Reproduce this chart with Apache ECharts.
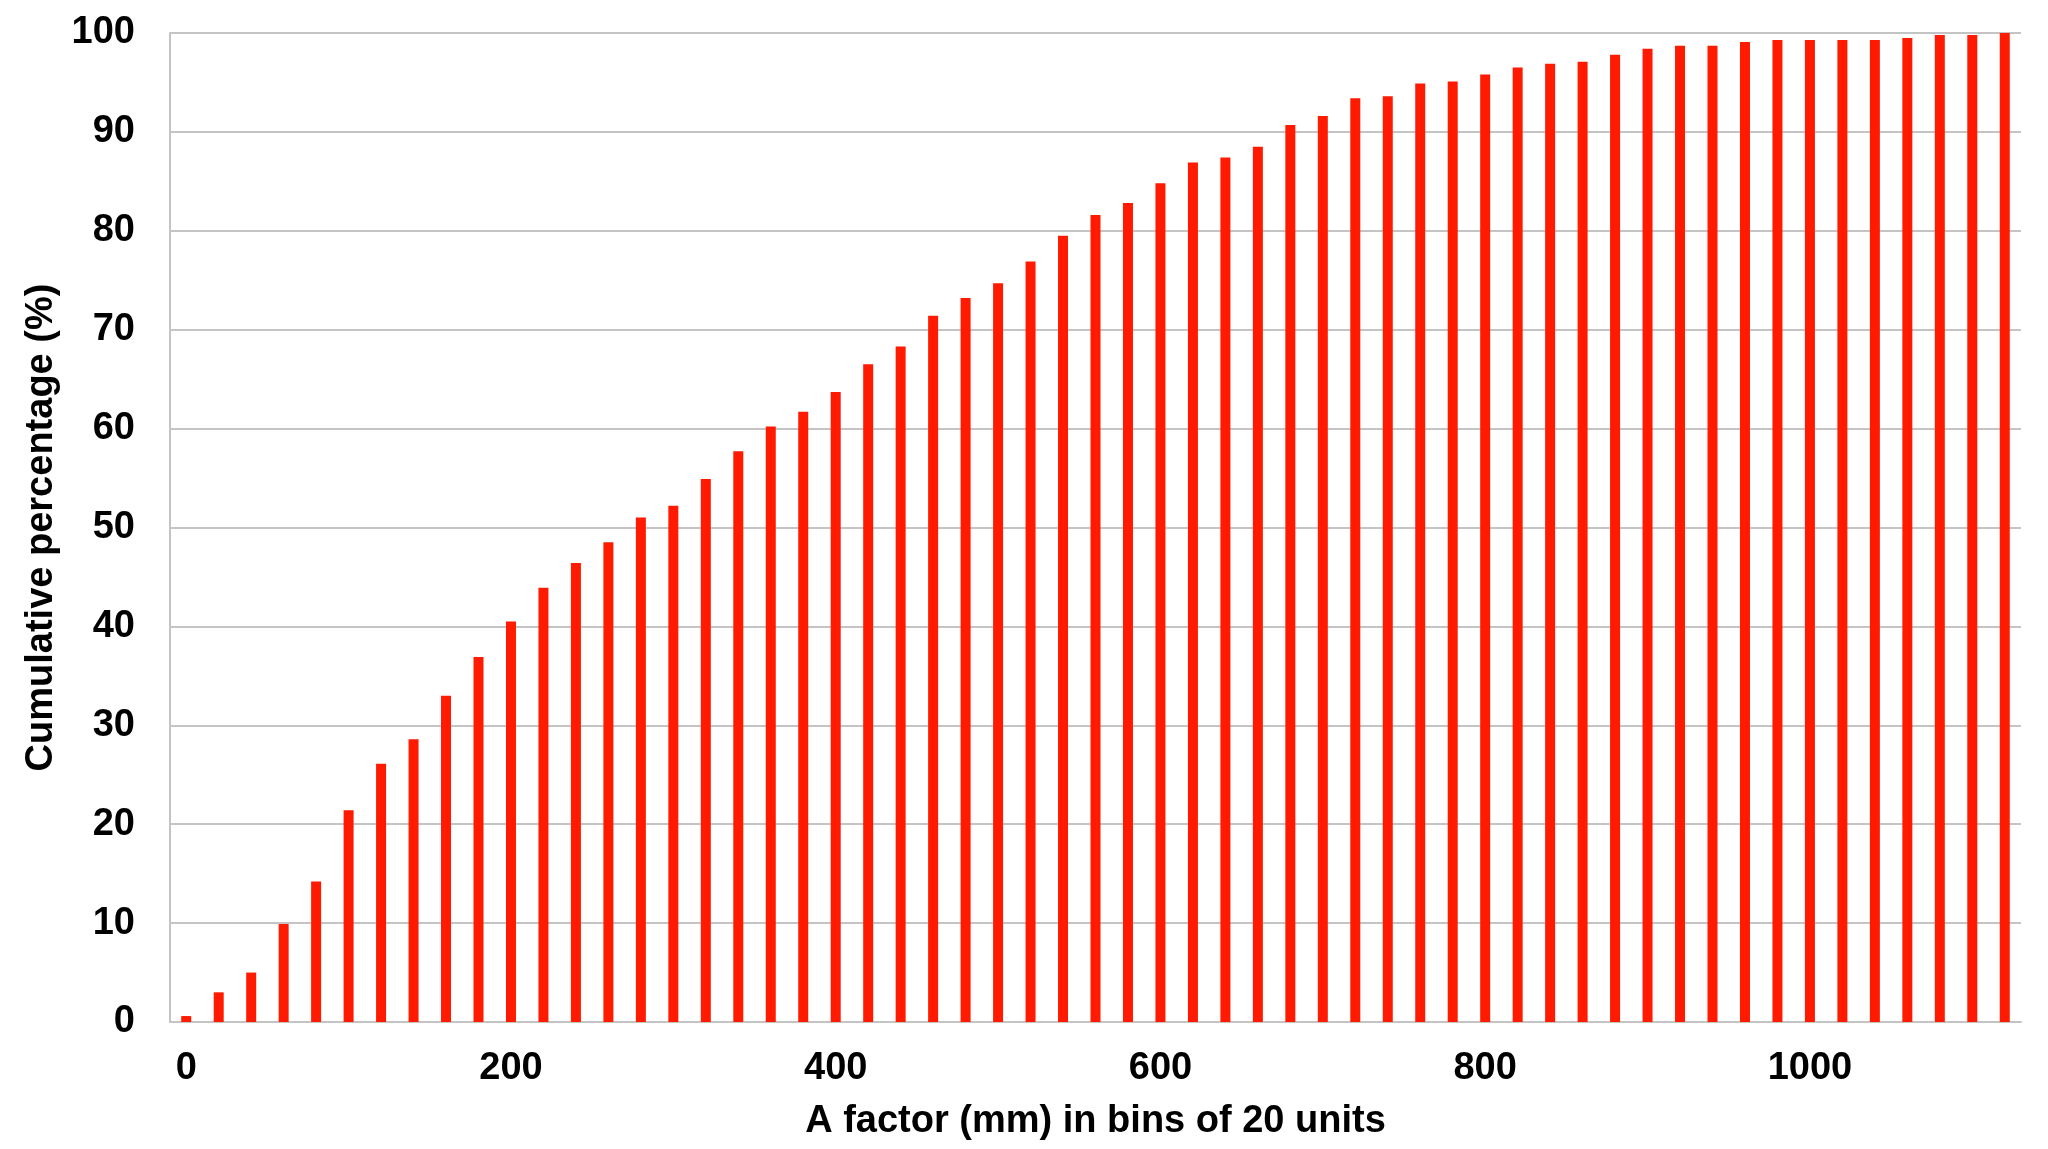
<!DOCTYPE html>
<html>
<head>
<meta charset="utf-8">
<script src="https://cdn.jsdelivr.net/npm/echarts@6/dist/echarts.min.js"></script>
<style>html,body{margin:0;padding:0;background:#fff}#c{width:2048px;height:1149px}</style>
</head>
<body>
<div id="c"></div>
<script>
const categories = ['0','20','40','60','80','100','120','140','160','180','200','220','240','260','280','300','320','340','360','380','400','420','440','460','480','500','520','540','560','580','600','620','640','660','680','700','720','740','760','780','800','820','840','860','880','900','920','940','960','980','1000','1020','1040','1060','1080','1100','1120'];
const cumulativePct = [0.6,3.0,5.0,9.9,14.2,21.4,26.1,28.6,33.0,36.9,40.5,43.9,46.4,48.5,51.0,52.2,54.9,57.7,60.2,61.7,63.7,66.5,68.3,71.4,73.2,74.7,76.9,79.5,81.6,82.8,84.8,86.9,87.4,88.5,90.7,91.6,93.4,93.6,94.9,95.1,95.8,96.5,96.9,97.1,97.8,98.4,98.7,98.7,99.1,99.3,99.3,99.3,99.3,99.5,99.8,99.8,100];
const yTicks = {min:0, max:100, interval:10};
const xTitle = 'A factor (mm) in bins of 20 units';
const yTitle = 'Cumulative percentage (%)';

const font = '"Liberation Sans", Arial, sans-serif';
const chart = echarts.init(document.getElementById('c'), null, {renderer:'canvas'});
chart.setOption({
  animation:false,
  backgroundColor:'#ffffff',
  grid:{left:170, right:27, top:33, bottom:127, containLabel:false},
  xAxis:{
    type:'category', data:categories, boundaryGap:true,
    axisLine:{show:true, lineStyle:{color:'#c4c4c4', width:2}},
    axisTick:{show:false},
    axisLabel:{interval:9, margin:28, color:'#000', fontSize:38, fontWeight:'bold', fontFamily:font},
    splitLine:{show:false},
    name:xTitle, nameLocation:'middle', nameGap:81,
    nameTextStyle:{color:'#000', fontSize:38, fontWeight:'bold', fontFamily:font}
  },
  yAxis:{
    type:'value', min:yTicks.min, max:yTicks.max, interval:yTicks.interval,
    axisLine:{show:true, lineStyle:{color:'#c4c4c4', width:2}},
    axisTick:{show:false},
    axisLabel:{margin:35, color:'#000', fontSize:38, fontWeight:'bold', fontFamily:font},
    splitLine:{show:true, lineStyle:{color:'#c4c4c4', width:2}},
    name:yTitle, nameLocation:'middle', nameGap:99, nameRotate:90,
    nameTextStyle:{color:'#000', fontSize:38, fontWeight:'bold', fontFamily:font}
  },
  series:[{
    type:'bar', data:cumulativePct, barWidth:10,
    itemStyle:{color:'#ff1a00'}
  }]
});
</script>
</body>
</html>
